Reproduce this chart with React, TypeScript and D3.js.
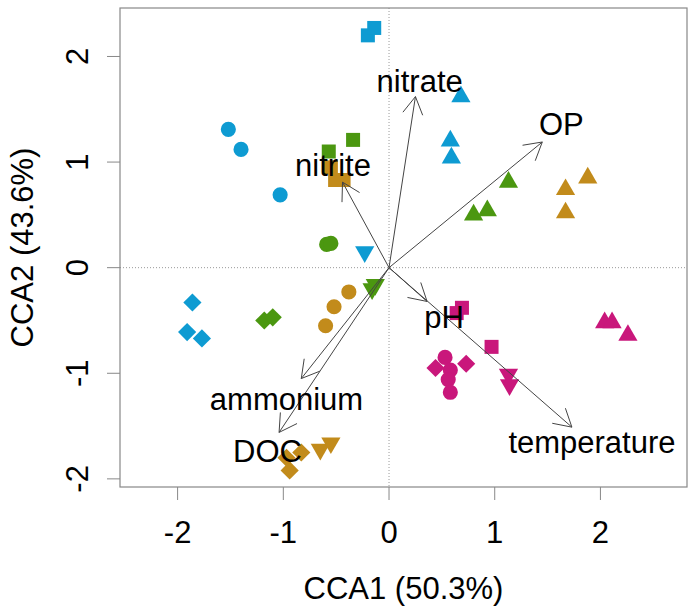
import React from "react";
import * as d3 from "d3";

// site scores: [CCA1, CCA2, shape]
const bluePoints: [number, number, string][] = [
  [-0.2, 2.2, "square"], [-0.14, 2.27, "square"],
  [-1.52, 1.31, "circle"], [-1.4, 1.12, "circle"], [-1.03, 0.69, "circle"],
  [0.68, 1.62, "up"], [0.58, 1.2, "up"], [0.59, 1.04, "up"],
  [-0.23, 0.15, "down"],
  [-1.86, -0.33, "diamond"], [-1.91, -0.61, "diamond"], [-1.77, -0.67, "diamond"],
];
const greenPoints: [number, number, string][] = [
  [-0.34, 1.21, "square"], [-0.57, 1.1, "square"],
  [-0.59, 0.22, "circle"], [-0.55, 0.23, "circle"],
  [1.13, 0.81, "up"], [0.93, 0.54, "up"], [0.8, 0.5, "up"],
  [-1.18, -0.5, "diamond"], [-1.1, -0.47, "diamond"],
  [-0.16, -0.2, "down"], [-0.13, -0.16, "down"],
];
const goldPoints: [number, number, string][] = [
  [-0.55, 0.95, "square"], [-0.51, 0.83, "square"], [-0.43, 0.83, "square"],
  [-0.38, -0.23, "circle"], [-0.52, -0.37, "circle"], [-0.6, -0.55, "circle"],
  [1.88, 0.85, "up"], [1.67, 0.74, "up"], [1.67, 0.52, "up"],
  [-0.83, -1.75, "diamond"], [-0.97, -1.8, "diamond"], [-0.94, -1.92, "diamond"],
  [-0.65, -1.72, "down"], [-0.55, -1.66, "down"],
];
const magentaPoints: [number, number, string][] = [
  [0.69, -0.38, "square"], [0.64, -0.43, "square"], [0.97, -0.75, "square"],
  [0.53, -0.85, "circle"], [0.58, -0.97, "circle"], [0.56, -1.06, "circle"], [0.58, -1.18, "circle"],
  [0.44, -0.95, "diamond"], [0.73, -0.91, "diamond"],
  [1.13, -1.01, "down"], [1.14, -1.11, "down"],
  [2.04, -0.52, "up"], [2.11, -0.52, "up"], [2.26, -0.64, "up"],
];

const groupColors = ["#0E9BD2", "#4B9710", "#C28B1B", "#C9177B"];

// biplot arrows
const envNames = ["nitrate", "OP", "nitrite", "ammonium", "DOC", "pH", "temperature"];
const envX = [0.25, 1.45, -0.44, -0.83, -1.04, 0.36, 1.73];
const envY = [1.62, 1.19, 0.81, -1.05, -1.56, -0.32, -1.51];
const labelX = [0.29, 1.63, -0.53, -0.97, -1.15, 0.52, 1.92];
const labelY = [1.77, 1.36, 0.97, -1.24, -1.73, -0.47, -1.65];

const xTicks = [-2, -1, 0, 1, 2];
const yTicks = [-2, -1, 0, 1, 2];

const left = 120, right = 687, top = 8, bottom = 487;
const fs = 31;

const shapePath = (shape: string) => {
  if (shape === "circle") return d3.symbol(d3.symbolCircle, 180)()!;
  if (shape === "square" || shape === "diamond")
    return d3.symbol(d3.symbolSquare, shape === "square" ? 196 : 165)()!;
  return d3.symbol(d3.symbolTriangle, 160)()!;
};

const App = () => {
  const x = d3.scaleLinear().domain([-2.545, 2.819]).range([left, right]);
  const y = d3.scaleLinear().domain([-2.077, 2.459]).range([bottom, top]);

  const groups = [bluePoints, greenPoints, goldPoints, magentaPoints];

  const arrowHead = (i: number) => {
    const x0 = x(0), y0 = y(0);
    const x1 = x(envX[i]), y1 = y(envY[i]);
    const ang = Math.atan2(y1 - y0, x1 - x0);
    const len = 20, a = Math.PI / 6;
    const p1 = [x1 - len * Math.cos(ang - a), y1 - len * Math.sin(ang - a)];
    const p2 = [x1 - len * Math.cos(ang + a), y1 - len * Math.sin(ang + a)];
    return `M${p1[0]},${p1[1]}L${x1},${y1}L${p2[0]},${p2[1]}`;
  };

  return (
    <svg width={688} height={609} style={{ position: "absolute", left: 0, top: 0 }}
      fontFamily="'Liberation Sans', Arial, sans-serif">
      <rect width={688} height={609} fill="#fff" />
      {/* zero lines */}
      <line x1={x(0)} x2={x(0)} y1={top} y2={bottom} stroke="#999" strokeDasharray="1,2" />
      <line x1={left} x2={right} y1={y(0)} y2={y(0)} stroke="#999" strokeDasharray="1,2" />

      {/* points */}
      {groups.map((pts, gi) =>
        pts.map((p, i) => (
          <path key={`${gi}-${i}`} d={shapePath(p[2])} fill={groupColors[gi]}
            transform={`translate(${x(p[0])},${y(p[1])})${p[2] === "down" ? " rotate(180)" : p[2] === "diamond" ? " rotate(45)" : ""}`} />
        ))
      )}

      {/* arrows */}
      {envNames.map((n, i) => (
        <g key={n} stroke="#444" strokeWidth={1} fill="none">
          <line x1={x(0)} y1={y(0)} x2={x(envX[i])} y2={y(envY[i])} />
          <path d={arrowHead(i)} />
        </g>
      ))}
      {envNames.map((n, i) => (
        <text key={n} x={x(labelX[i])} y={y(labelY[i]) + fs * 0.36} fontSize={fs} textAnchor="middle" fill="#000">{n}</text>
      ))}

      {/* box */}
      <rect x={left} y={top} width={right - left} height={bottom - top} fill="none" stroke="#888" strokeWidth={1.2} />

      {/* x axis */}
      {xTicks.map((t) => (
        <g key={t}>
          <line x1={x(t)} x2={x(t)} y1={bottom} y2={bottom + 13} stroke="#888" />
          <text x={x(t)} y={532 + fs * 0.36} fontSize={fs} textAnchor="middle">{t}</text>
        </g>
      ))}
      {/* y axis */}
      {yTicks.map((t) => (
        <g key={t}>
          <line x1={left - 13} x2={left} y1={y(t)} y2={y(t)} stroke="#888" />
          <text transform={`translate(${77 + fs * 0.36},${y(t)}) rotate(-90)`} fontSize={fs} textAnchor="middle">{t}</text>
        </g>
      ))}
      <text x={(left + right) / 2} y={588 + fs * 0.36} fontSize={fs} textAnchor="middle">CCA1 (50.3%)</text>
      <text transform={`translate(${22 + fs * 0.36},${(top + bottom) / 2}) rotate(-90)`} fontSize={fs} textAnchor="middle">CCA2 (43.6%)</text>
    </svg>
  );
};

export default App;
